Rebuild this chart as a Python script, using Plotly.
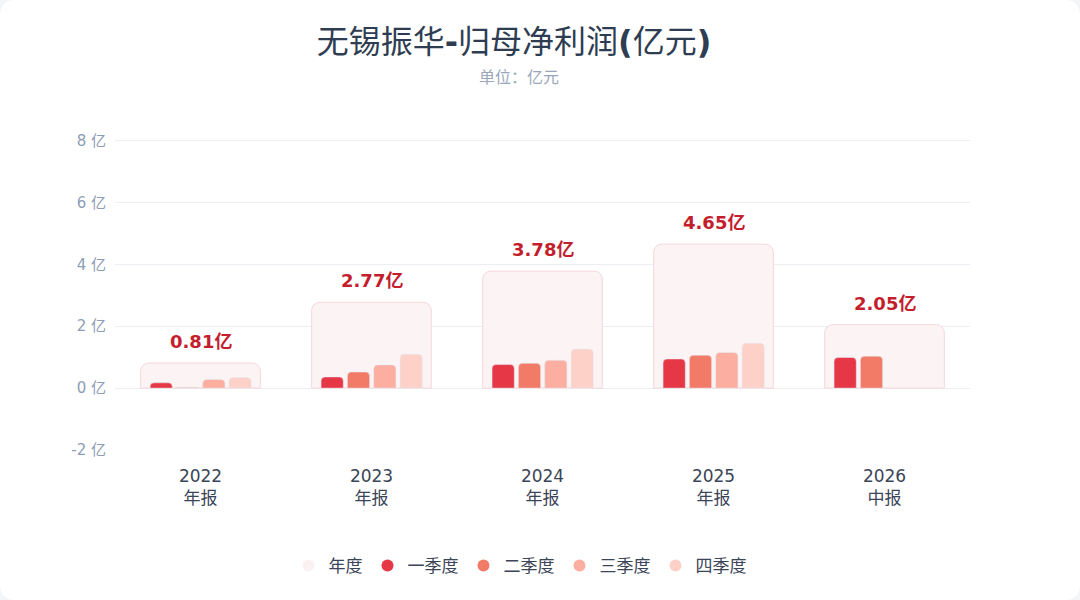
import plotly.graph_objects as go

# data (亿元)
years = ['2022', '2023', '2024', '2025', '2026']
report_type = ['年报', '年报', '年报', '年报', '中报']
annual = [0.81, 2.77, 3.78, 4.65, 2.05]
q1 = [0.17, 0.36, 0.76, 0.94, 0.99]
q2 = [0.02, 0.52, 0.80, 1.06, 1.03]
q3 = [0.28, 0.75, 0.90, 1.15, None]
q4 = [0.34, 1.09, 1.26, 1.45, None]

quarters = [('一季度', q1, '#e63746'), ('二季度', q2, '#f27b68'),
            ('三季度', q3, '#fcaea0'), ('四季度', q4, '#fdd0c8')]

W, H = 1080, 600
ml, mr, mt, mb = 115, 110, 125, 150
pw, ph = W - ml - mr, H - mt - mb


def px2paper(x, y):
    return (x - ml) / pw, (H - mb - y) / ph


# rounded white card behind everything
r = 16
pts = [('M', r, 0), ('L', W - r, 0), ('Q', W, 0, W, r), ('L', W, H - r), ('Q', W, H, W - r, H),
       ('L', r, H), ('Q', 0, H, 0, H - r), ('L', 0, r), ('Q', 0, 0, r, 0)]
path = ''
for p in pts:
    coords = []
    for i in range(1, len(p), 2):
        a, b = px2paper(p[i], p[i + 1])
        coords.append(f'{a:.5f},{b:.5f}')
    path += p[0] + ' '.join(coords) + ' '
path += 'Z'

font_fam = 'DejaVu Sans, Noto Sans CJK SC, sans-serif'

fig = go.Figure()

fig.add_trace(go.Bar(
    x=years, y=annual, name='年度', width=0.7, showlegend=False,
    marker=dict(color='#fbf3f4', line=dict(color='#f5d8dc', width=1), cornerradius=8),
    hoverinfo='skip',
))

offsets = [-0.295, -0.141, 0.013, 0.167]
for (name, vals, col), off in zip(quarters, offsets):
    fig.add_trace(go.Bar(
        x=years, y=vals, name=name, offset=off, width=0.13, showlegend=False,
        marker=dict(color=col, cornerradius=4),
    ))

# legend entries as circles
fig.add_trace(go.Scatter(x=[None], y=[None], mode='markers', name='年度',
                         marker=dict(color='#fcf1f2', size=14)))
for name, vals, col in quarters:
    fig.add_trace(go.Scatter(x=[None], y=[None], mode='markers', name=name,
                             marker=dict(color=col, size=14)))

# value labels (x as category index, a plain '2022' string would be read as an index)
for i, v in enumerate(annual):
    fig.add_annotation(x=i, y=v, text=f'<b>{v:.2f}亿</b>', showarrow=False,
                       yanchor='bottom', yshift=9,
                       font=dict(size=18, color='#c41e2d', family=font_fam))

sx, sy = px2paper(519, 76)
fig.add_annotation(x=sx, y=sy, xref='paper', yref='paper', text='单位：亿元', showarrow=False,
                   xanchor='center', yanchor='middle',
                   font=dict(size=16, color='#9aa6ba', family='Noto Sans CJK SC'))

fig.update_layout(
    width=W, height=H,
    margin=dict(l=ml, r=mr, t=mt, b=mb),
    paper_bgcolor='#f4f5f7', plot_bgcolor='rgba(0,0,0,0)',
    barmode='overlay',
    shapes=[dict(type='path', path=path, xref='paper', yref='paper', layer='below',
                 fillcolor='white', line=dict(width=0))],
    title=dict(text='无锡振华<b>-</b>归母净利润<b>(</b>亿元<b>)</b>', x=514 / W, xanchor='center',
               y=1 - 42 / H, yanchor='middle',
               font=dict(size=32, color='#2f3d52', family=font_fam)),
    xaxis=dict(type='category', range=[-0.5, 4.5], tickvals=years,
               ticktext=[f'{y}<br>{t}' for y, t in zip(years, report_type)],
               showgrid=False, zeroline=False, showline=False, ticks='',
               ticklabelstandoff=14,
               tickfont=dict(size=17, color='#3a4558', family=font_fam)),
    yaxis=dict(range=[-2, 8.5], tickvals=[-2, 0, 2, 4, 6, 8],
               ticktext=['-2 亿', '0 亿', '2 亿', '4 亿', '6 亿', '8 亿'],
               showgrid=True, gridcolor='#eceef3', gridwidth=1, zeroline=False,
               ticks='', ticklabelstandoff=8,
               tickfont=dict(size=15, color='#8e9db6', family=font_fam)),
    legend=dict(orientation='h', x=px2paper(520, 0)[0], xanchor='center',
                y=px2paper(0, 566)[1], yanchor='middle',
                font=dict(size=17, color='#3a4558', family='Noto Sans CJK SC'),
                itemsizing='constant', bgcolor='rgba(0,0,0,0)', traceorder='normal'),
    showlegend=True,
)

# the page has a default 8px body margin; drop it so the figure sits at the window corner
fig.write_html('out.html', config={'displayModeBar': False},
               post_script="document.body.style.margin='0px';")
